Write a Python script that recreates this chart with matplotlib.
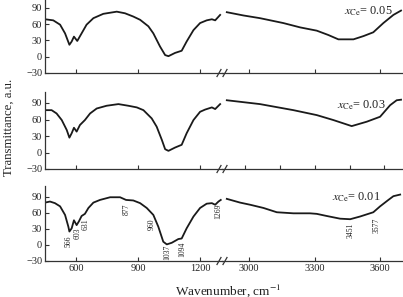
import matplotlib
matplotlib.use("Agg")
import matplotlib.pyplot as plt
from matplotlib.lines import Line2D

plt.rcParams['font.family'] = ['Liberation Serif', 'DejaVu Serif']
plt.rcParams['mathtext.fontset'] = 'stix'

# ---------------- data ----------------
labels = ["0.05", "0.03", "0.01"]

wl_05 = [450, 490, 523, 547, 568, 579, 590, 606, 627, 651, 684, 732, 797, 837, 877, 910, 950, 974,
         1006, 1031, 1047, 1079, 1111, 1135, 1168, 1200, 1232, 1257, 1273, 1297]
tl_05 = [69, 67, 59, 43, 22, 28, 37, 29, 43, 59, 71, 79, 83, 80, 74, 68, 56, 43,
         19, 3, 1, 7, 11, 28, 49, 62, 67, 69, 67, 77]
wr_05 = [2898, 2974, 3050, 3157, 3234, 3310, 3363, 3409, 3478, 3524, 3569, 3615, 3661, 3696]
tr_05 = [82, 76, 71, 62, 54, 48, 40, 32, 32, 38, 45, 62, 77, 85]

wl_03 = [450, 482, 506, 531, 555, 568, 579, 590, 603, 619, 643, 668, 700, 748, 805, 853, 894, 926,
         966, 990, 1015, 1031, 1047, 1079, 1111, 1135, 1168, 1200, 1224, 1257, 1273, 1297]
tl_03 = [77, 77, 71, 59, 41, 27, 35, 45, 38, 50, 59, 71, 80, 85, 88, 85, 82, 77,
         62, 47, 23, 6, 3, 9, 14, 35, 59, 74, 78, 82, 79, 88]
wr_03 = [2898, 3050, 3203, 3310, 3386, 3470, 3539, 3600, 3646, 3676, 3696]
tr_03 = [95, 88, 77, 68, 59, 48, 56, 65, 86, 95, 96]

wl_01 = [450, 474, 498, 523, 547, 563, 568, 579, 590, 603, 614, 627, 643, 660, 684, 716, 765, 813,
         842, 877, 910, 942, 974, 998, 1022, 1039, 1063, 1095, 1111, 1135, 1168, 1200, 1232, 1257,
         1273, 1289, 1300]
tl_01 = [79, 81, 78, 72, 56, 34, 25, 31, 46, 37, 44, 54, 58, 69, 79, 84, 89, 89,
         84, 83, 78, 69, 56, 34, 6, 1, 4, 11, 12, 31, 53, 69, 77, 78,
         75, 81, 84]
wr_01 = [2898, 2959, 3005, 3066, 3127, 3203, 3279, 3310, 3356, 3417, 3463, 3508, 3569, 3600,
         3638, 3661, 3692]
tr_01 = [86, 79, 75, 69, 61, 59, 59, 58, 54, 49, 48, 53, 61, 72, 84, 91, 94]

yticks = [-30, 0, 30, 60, 90]
xticks_left = [600, 900, 1200]
xticks_right = [3000, 3300, 3600]
xticks_right_mid = [2980, 3140, 3300, 3460, 3620]

peak_left = ["566", "603", "631", "877", "960", "1037", "1094", "1269"]
peak_left_x = [566, 608, 646, 845, 968, 1040, 1113, 1290]
peak_left_y = [7, 21, 39, 66, 39, -13, -9, 62]
peak_right = ["3451", "3577"]
peak_right_x = [3463, 3586]
peak_right_y = [28, 37]

# ---------------- layout ----------------
W, H = 403, 297
fig = plt.figure(figsize=(W / 100, H / 100), dpi=100)
fig.patch.set_facecolor('white')

x0, xs, x1 = 45 / W, 222 / W, 1.0
panels_px = [(73, -3), (169, 92), (261, 186)]
ylim = (-30, 110)
xlim_left = (450, 1306)
xlim_right = (2876, 3705)

series = [(wl_05, tl_05, wr_05, tr_05), (wl_03, tl_03, wr_03, tr_03), (wl_01, tl_01, wr_01, tr_01)]
lab_pos_px = [(344, 11), (337, 105), (332, 197)]

lc = '#1a1a1a'
for i, ((bpx, tpx), (wl, tl, wr, tr)) in enumerate(zip(panels_px, series)):
    b = 1 - bpx / H
    h = (bpx - tpx) / H
    axl = fig.add_axes([x0, b, xs - x0, h])
    axr = fig.add_axes([xs, b, x1 - xs, h])
    for ax in (axl, axr):
        ax.set_facecolor('none')
        ax.set_ylim(*ylim)
        ax.spines['top'].set_visible(False)
        ax.spines['right'].set_visible(False)
        ax.spines['bottom'].set_color('#333333')
        ax.spines['left'].set_color('#333333')
        ax.spines['bottom'].set_linewidth(0.9)
        ax.spines['left'].set_linewidth(0.9)
        ax.tick_params(direction='in', length=3, width=0.8, color='#333333',
                       labelsize=7.5, pad=2, labelcolor='#222222')
    axr.spines['left'].set_visible(False)
    axr.set_yticks([])
    axl.set_yticks(yticks)
    axl.set_xlim(*xlim_left)
    axr.set_xlim(*xlim_right)
    axl.set_xticks(xticks_left)
    axr.set_xticks(xticks_right_mid if i == 1 else xticks_right)
    if i < 2:
        axl.set_xticklabels([])
        axr.set_xticklabels([])
    axl.plot(wl, tl, color=lc, lw=1.3, solid_joinstyle='round')
    axr.plot(wr, tr, color=lc, lw=1.3, solid_joinstyle='round')

    for dx in (219, 225):
        fig.add_artist(Line2D([(dx - 2) / W, (dx + 2) / W],
                              [1 - (bpx + 3.5) / H, 1 - (bpx - 3.5) / H],
                              color='#333333', lw=0.9))

    lx, ly = lab_pos_px[i]
    fig.text(lx / W, 1 - ly / H, r'$x_{\rm Ce}$= ' + labels[i], fontsize=8.8,
             ha='left', va='center', color='#222222')

    if i == 2:
        for t, p, y in zip(peak_left, peak_left_x, peak_left_y):
            axl.text(p, y, t, rotation=90, fontsize=5.5, ha='center', va='center', color='#222222')
        for t, p, y in zip(peak_right, peak_right_x, peak_right_y):
            axr.text(p, y, t, rotation=90, fontsize=5.5, ha='center', va='center', color='#222222')

fig.text(9 / W, 1 - 127 / H, 'Transmittance, a.u.', rotation=90, fontsize=9.2,
         ha='center', va='center', color='#222222')
fig.text(228 / W, 1 - 291 / H, r'Wavenumber, cm$^{-1}$', fontsize=9.5,
         ha='center', va='center', color='#222222')

fig.savefig('out.png', dpi=100)
